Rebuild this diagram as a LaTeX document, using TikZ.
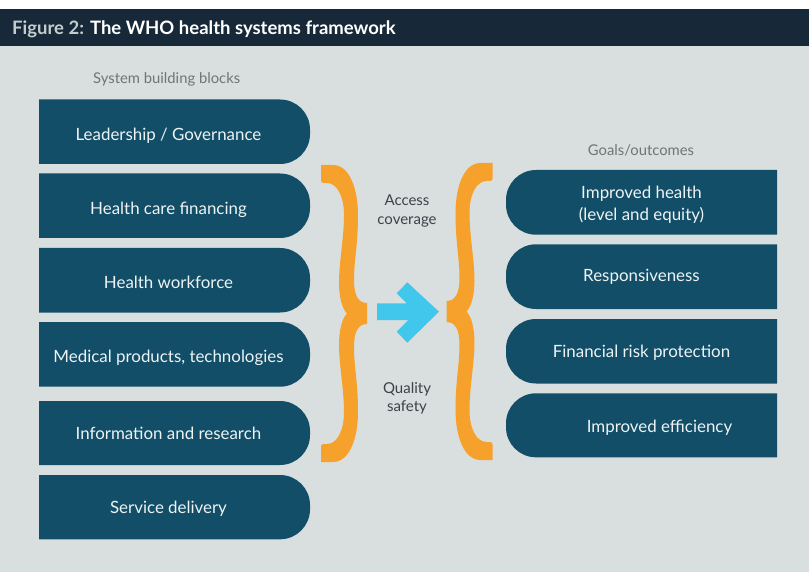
\documentclass[tikz,border=0pt]{standalone}
\usepackage{fontspec}
\setmainfont{Lato}
\definecolor{headbg}{HTML}{172839}
\definecolor{panel}{HTML}{D9DFDF}
\definecolor{boxblue}{HTML}{124E68}
\definecolor{boxtext}{HTML}{EEF3F4}
\definecolor{bracecol}{HTML}{F6A12B}
\definecolor{arrowcol}{HTML}{42C7EC}
\definecolor{labelgray}{HTML}{6F7576}
\definecolor{midgray}{HTML}{3C4247}
\definecolor{figlabel}{HTML}{C3CDCE}

% building block: square on the left, rounded on the right
\newcommand\leftblock[2]{%
  \fill[boxblue] (39,#1) -- (280,#1)
    .. controls (296.57,#1) and (310,#1+13.43) .. (310,#1+30)
    -- (310,#2-30)
    .. controls (310,#2-13.43) and (296.57,#2) .. (280,#2)
    -- (39,#2) -- cycle;}
% outcome block: rounded on the left, square on the right
\newcommand\rightblock[2]{%
  \fill[boxblue] (777,#1) -- (536,#1)
    .. controls (519.43,#1) and (506,#1+13.43) .. (506,#1+30)
    -- (506,#2-30)
    .. controls (506,#2-13.43) and (519.43,#2) .. (536,#2)
    -- (777,#2) -- cycle;}
% curly brace outline, origin at the middle of its tip
\newcommand\bracefill{%
  \fill[bracecol] (-46,-148.5) -- (-34,-148.5)
    .. controls (-17,-148.5) and (-9,-123.5) .. (-9,-98.5)
    .. controls (-9,-68.5) and (-13,-53.5) .. (-13,-33.5)
    .. controls (-13,-18.5) and (-9,-10.5) .. (0,-10.5)
    -- (0,10.5)
    .. controls (-9,10.5) and (-13,18.5) .. (-13,33.5)
    .. controls (-13,53.5) and (-9,68.5) .. (-9,98.5)
    .. controls (-9,123.5) and (-17,148.5) .. (-34,148.5)
    -- (-46,148.5) -- (-46,133) .. controls (-46,131) and (-45,130.5) .. (-43,130.5)
    -- (-40,130.5)
    .. controls (-30,130.5) and (-23,117) .. (-23,98.5)
    .. controls (-23,76) and (-28,51) .. (-28,31)
    .. controls (-28,17) and (-25,5) .. (-20,0)
    .. controls (-25,-5) and (-28,-17) .. (-28,-31)
    .. controls (-28,-51) and (-23,-76) .. (-23,-98.5)
    .. controls (-23,-117) and (-30,-130.5) .. (-40,-130.5)
    -- (-43,-130.5) .. controls (-45,-130.5) and (-46,-131) .. (-46,-133)
    -- cycle;}

\begin{document}
\begin{tikzpicture}[x=1pt,y=-1pt,
  blocktext/.style={text=boxtext, font=\fontsize{16.9}{22.7}\selectfont, anchor=base, align=center, inner sep=0pt},
  headtext/.style={text=labelgray, font=\fontsize{14.8}{18}\selectfont, anchor=base, inner sep=0pt},
  midtext/.style={text=midgray, font=\fontsize{15}{18.5}\selectfont, anchor=base, align=center, inner sep=0pt},
  titletext/.style={text=white, font=\fontsize{18.5}{22}\selectfont\bfseries, anchor=base west, inner sep=0pt}]
\useasboundingbox (0,0) rectangle (809,572);

% header bar and panel
\fill[white] (0,0) rectangle (809,9);
\fill[headbg] (0,9) rectangle (809,46);
\fill[panel] (0,46) rectangle (809,572);
\node[titletext] (title) at (12,34.7) {\textcolor{figlabel}{Figure 2:} The WHO health systems framework};

% column headings
\node[headtext] (blockshead) at (166.7,83.3) {System building blocks};
\node[headtext] (goalshead) at (641,156) {Goals/outcomes};

% building blocks
\leftblock{99.5}{164}
\leftblock{173.5}{238}
\leftblock{248}{312.5}
\leftblock{322}{386.7}
\leftblock{401}{465}
\leftblock{475}{539.3}
\node[blocktext] (lead) at (168.5,140.5) {Leadership / Governance};
\node[blocktext] (fin)  at (168.5,215) {Health care financing};
\node[blocktext] (work) at (168.5,289) {Health workforce};
\node[blocktext] (med)  at (168.5,362) {Medical products, technologies};
\node[blocktext] (info) at (168.5,439.5) {Information and research};
\node[blocktext] (serv) at (168.5,513.5) {Service delivery};

% outcomes (multi-line nodes sit on the baseline of their last line)
\rightblock{170}{234.7}
\rightblock{244.3}{309}
\rightblock{319}{383.5}
\rightblock{393.3}{457.3}
\node[blocktext] (health) at (641.5,221) {Improved health\\(level and equity)};
\node[blocktext] (resp)   at (641.5,282) {Responsiveness};
\node[blocktext] (risk)   at (641.5,357) {Financial risk protection};
\node[blocktext] (eff)    at (659.5,432) {Improved efficiency};

% braces
\begin{scope}[shift={(367,313.5)}]
  \bracefill
\end{scope}
\begin{scope}[shift={(446.5,311.5)}, xscale=-1]
  \bracefill
\end{scope}

% intermediate properties
\node[midtext] (access)  at (407,224.5) {Access\\coverage};
\node[midtext] (quality) at (407,411.8) {Quality\\safety};

% arrow
\fill[arrowcol] (377,303.3) -- (406.7,303.3) -- (396.7,293.3) -- (407.3,282.3)
  -- (439,311.7) -- (407.3,342.7) -- (396.7,331.7) -- (408.4,320) -- (377,320) -- cycle;
\end{tikzpicture}
\end{document}
